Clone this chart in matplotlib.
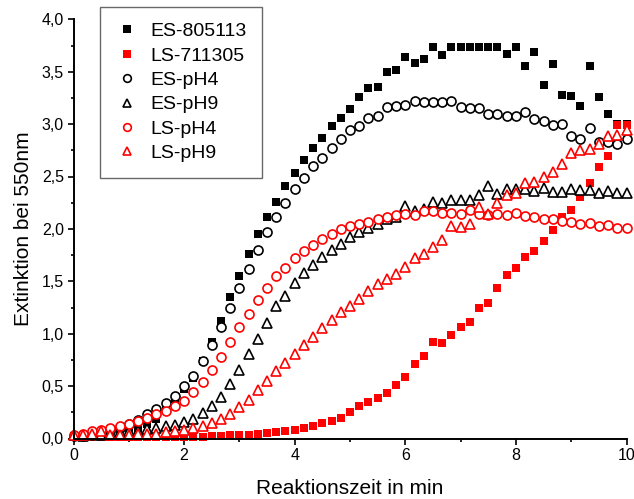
import numpy as np
import matplotlib
matplotlib.use('Agg')
import matplotlib.pyplot as plt
from matplotlib.ticker import MultipleLocator, FuncFormatter

plt.rcParams['font.family'] = ['Liberation Sans', 'DejaVu Sans']

# sampling every 10 s, converted to minutes
t_min = np.arange(0, 610, 10) / 60

es_805113 = [0.02, 0.02, 0.02, 0.03, 0.04, 0.05, 0.07, 0.10, 0.14, 0.19,
             0.27, 0.36, 0.47, 0.58, 0.74, 0.92, 1.12, 1.35, 1.55, 1.76,
             1.95, 2.11, 2.26, 2.41, 2.53, 2.66, 2.77, 2.87, 2.98, 3.06,
             3.14, 3.26, 3.34, 3.35, 3.50, 3.52, 3.64, 3.58, 3.62, 3.74,
             3.66, 3.74, 3.74, 3.74, 3.74, 3.74, 3.74, 3.67, 3.74, 3.55,
             3.69, 3.37, 3.57, 3.28, 3.27, 3.17, 3.55, 3.26, 3.10, 3.00,
             3.00]
ls_711305 = [0.01, 0.01, 0.01, 0.01, 0.01, 0.01, 0.01, 0.01, 0.01, 0.01,
             0.01, 0.01, 0.01, 0.015, 0.015, 0.02, 0.02, 0.03, 0.03, 0.035,
             0.04, 0.05, 0.06, 0.07, 0.08, 0.10, 0.12, 0.146, 0.17, 0.20,
             0.25, 0.31, 0.35, 0.39, 0.43, 0.51, 0.585, 0.71, 0.79, 0.92,
             0.91, 0.99, 1.06, 1.11, 1.25, 1.29, 1.44, 1.56, 1.63, 1.73,
             1.79, 1.88, 1.99, 2.11, 2.185, 2.30, 2.44, 2.59, 2.70, 2.99,
             2.99]
es_ph4 = [0.02, 0.02, 0.03, 0.05, 0.07, 0.10, 0.14, 0.18, 0.235, 0.28,
          0.34, 0.41, 0.50, 0.60, 0.74, 0.89, 1.06, 1.25, 1.44, 1.62,
          1.80, 1.97, 2.11, 2.25, 2.38, 2.49, 2.60, 2.68, 2.77, 2.86,
          2.94, 2.98, 3.06, 3.08, 3.16, 3.17, 3.18, 3.22, 3.21, 3.21,
          3.21, 3.22, 3.16, 3.15, 3.15, 3.10, 3.10, 3.08, 3.08, 3.12,
          3.05, 3.03, 2.99, 3.00, 2.89, 2.86, 2.96, 2.83, 2.83, 2.81,
          2.86]
es_ph9 = [0.03, 0.02, 0.04, 0.03, 0.05, 0.06, 0.07, 0.07, 0.09, 0.10,
          0.115, 0.13, 0.16, 0.19, 0.24, 0.31, 0.40, 0.52, 0.65, 0.81,
          0.95, 1.10, 1.26, 1.36, 1.48, 1.58, 1.66, 1.73, 1.80, 1.86,
          1.92, 1.97, 2.01, 2.05, 2.09, 2.11, 2.22, 2.17, 2.19, 2.26,
          2.25, 2.28, 2.28, 2.28, 2.32, 2.41, 2.33, 2.38, 2.38, 2.38,
          2.36, 2.39, 2.35, 2.35, 2.38, 2.37, 2.37, 2.34, 2.36, 2.34,
          2.34]
ls_ph4 = [0.03, 0.045, 0.07, 0.08, 0.10, 0.12, 0.14, 0.17, 0.20, 0.23,
          0.26, 0.31, 0.36, 0.44, 0.54, 0.65, 0.78, 0.92, 1.06, 1.19,
          1.32, 1.44, 1.55, 1.63, 1.72, 1.79, 1.85, 1.905, 1.95, 2.00,
          2.03, 2.05, 2.07, 2.09, 2.11, 2.13, 2.14, 2.13, 2.17, 2.17,
          2.15, 2.15, 2.14, 2.18, 2.14, 2.13, 2.14, 2.13, 2.15, 2.12,
          2.11, 2.09, 2.09, 2.08, 2.07, 2.05, 2.06, 2.03, 2.04, 2.01,
          2.01]
ls_ph9 = [0.03, 0.03, 0.045, 0.075, 0.03, 0.03, 0.03, 0.045, 0.045, 0.045,
          0.06, 0.07, 0.08, 0.10, 0.124, 0.146, 0.19, 0.235, 0.30, 0.37,
          0.46, 0.55, 0.64, 0.72, 0.81, 0.89, 0.97, 1.05, 1.13, 1.205,
          1.26, 1.33, 1.41, 1.47, 1.52, 1.57, 1.64, 1.72, 1.76, 1.83,
          1.89, 2.03, 2.02, 2.05, 2.21, 2.14, 2.25, 2.32, 2.34, 2.44,
          2.45, 2.50, 2.54, 2.62, 2.72, 2.75, 2.76, 2.81, 2.89, 2.90,
          2.94]

fig = plt.figure(figsize=(6.34, 4.99), dpi=100)
ax = fig.add_axes([73.5 / 634, 1 - 438.5 / 499, 553 / 634, 419.2 / 499])

# filled squares for the reference samples, open markers for the pH series
ax.plot(t_min, es_805113, 's', color='black', ms=6, mew=0, label='ES-805113', clip_on=False)
ax.plot(t_min, ls_711305, 's', color='red', ms=6, mew=0, label='LS-711305', clip_on=False)
ax.plot(t_min, es_ph4, 'o', color='black', mfc='white', ms=6.5, mew=1.2, label='ES-pH4', clip_on=False)
ax.plot(t_min, es_ph9, '^', color='black', mfc='white', ms=7, mew=1.2, label='ES-pH9', clip_on=False)
ax.plot(t_min, ls_ph4, 'o', color='red', mfc='white', ms=6.5, mew=1.2, label='LS-pH4', clip_on=False)
ax.plot(t_min, ls_ph9, '^', color='red', mfc='white', ms=7, mew=1.2, label='LS-pH9', clip_on=False)

ax.set_xlim(0, 10)
ax.set_ylim(0, 4.0)
ax.xaxis.set_major_locator(MultipleLocator(2))
ax.xaxis.set_minor_locator(MultipleLocator(1))
ax.yaxis.set_major_locator(MultipleLocator(0.5))
ax.yaxis.set_minor_locator(MultipleLocator(0.25))
ax.yaxis.set_major_formatter(FuncFormatter(lambda v, p: f'{v:.1f}'.replace('.', ',')))
ax.xaxis.set_major_formatter(FuncFormatter(lambda v, p: f'{v:.0f}'))

for side in ['top', 'right']:
    ax.spines[side].set_visible(False)
for side in ['left', 'bottom']:
    ax.spines[side].set_linewidth(1.4)

ax.tick_params(which='major', direction='out', length=4, width=1.2, labelsize=11.5, pad=3)
ax.tick_params(which='minor', direction='out', length=2.5, width=1.2)

ax.set_xlabel('Reaktionszeit in min', fontsize=15, labelpad=11)
ax.set_ylabel('Extinktion bei 550nm', fontsize=15, labelpad=6)

leg = ax.legend(loc='upper left', bbox_to_anchor=(100 / 634, 1 - 7 / 499),
                bbox_transform=fig.transFigure, borderaxespad=0, fontsize=14,
                frameon=True, fancybox=False, handlelength=1.2, handletextpad=0.6,
                labelspacing=0.35, borderpad=0.8, markerscale=0.85)
leg.get_frame().set_edgecolor('#444444')
leg.get_frame().set_linewidth(1.0)

fig.savefig('out.png', dpi=100)
